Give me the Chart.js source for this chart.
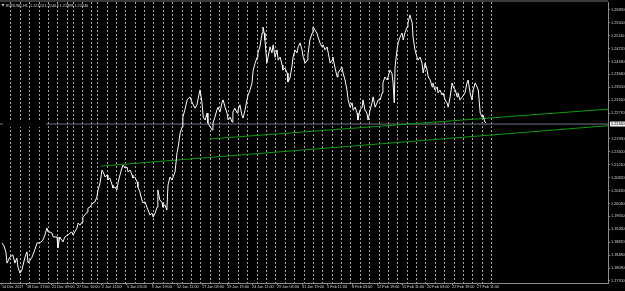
<!DOCTYPE html>
<html>
<head>
<meta charset="utf-8">
<script src="https://cdn.jsdelivr.net/npm/chart.js@4.4.1/dist/chart.umd.min.js"></script>
<style>
html, body { margin: 0; padding: 0; background: #000; overflow: hidden; }
canvas { display: block; }
</style>
</head>
<body>
<canvas id="chart" width="625" height="291" style="width:625px;height:291px"></canvas>
<script>
// EURUSD H1, bar index from the first bar (14 Dec 2017) and the close
const barIndex = [
    0, 5, 10, 13, 20, 28, 33, 38, 41, 46, 51, 54, 59, 64, 67, 72, 77, 84, 90, 97,
    105, 110, 115, 118, 123, 128, 131, 141, 143, 148, 156, 161, 169, 174, 179, 182, 192, 195, 200, 205,
    207, 212, 218, 220, 225, 233, 238, 243, 246, 251, 256, 259, 264, 269, 271, 276, 282, 284, 289, 294,
    297, 302, 307, 310, 315, 320, 323, 328, 333, 335, 340, 346, 348, 353, 358, 361, 366, 371, 374, 379,
    384, 387, 392, 397, 399, 404, 410, 412, 417, 422, 425, 430, 435, 438, 443, 448, 451, 456, 461, 463,
    468, 474, 481, 486, 494, 499, 504,
    507, 512, 515, 520, 525, 527, 538, 540, 545, 550, 553, 558, 563, 566, 571, 576, 579, 584, 589, 591,
    596, 602, 604, 609, 614, 617, 622, 627, 630, 635, 640, 643, 648, 653, 655, 660, 666, 668, 671, 673,
    678, 681, 686, 691, 694, 699, 704, 707, 712, 717, 719, 724, 730, 732, 737, 742, 745, 750, 755, 758,
    763, 768, 771, 776, 781, 783, 788, 794, 796, 801, 806, 809, 814, 819, 822, 827, 832, 835, 840, 845,
    847, 852, 858, 860, 865, 870, 873, 878, 883, 886, 891, 896, 899, 904, 909, 911, 916, 922, 924, 929,
    934, 937, 942, 947, 950, 955, 960, 963,
    968, 973, 975, 980, 986, 993, 998, 1001, 1004, 1006, 1011, 1014, 1019, 1024, 1027, 1032, 1037, 1039, 1044, 1050,
    1052, 1057, 1062, 1065, 1070, 1075, 1078, 1083, 1088, 1091, 1096, 1101, 1103, 1108, 1114, 1116, 1121, 1126, 1129, 1134,
    1139, 1142, 1147, 1152, 1155, 1160, 1165, 1167, 1172, 1178, 1185, 1190, 1193, 1198, 1203, 1206, 1211, 1216, 1219, 1224,
    1229, 1231, 1236, 1239
];
const closePrice = [
    1.1885, 1.1876, 1.1858, 1.1824, 1.1842, 1.1849, 1.1824, 1.1839, 1.1812, 1.1794, 1.1803, 1.1818, 1.1842, 1.1858, 1.1824, 1.1833, 1.1842, 1.1864, 1.1885, 1.1885,
    1.1894, 1.1909, 1.1930, 1.1918, 1.1918, 1.1915, 1.1903, 1.1903, 1.1870, 1.1903, 1.1888, 1.1903, 1.1909, 1.1915, 1.1918, 1.1909, 1.1930, 1.1945, 1.1939, 1.1948,
    1.1963, 1.1969, 1.1978, 1.1990, 1.1993, 1.2006, 1.2009, 1.2024, 1.2045, 1.2066, 1.2105, 1.2099, 1.2084, 1.2090, 1.2075, 1.2081, 1.2060, 1.2051, 1.2054, 1.2045,
    1.2066, 1.2090, 1.2111, 1.2120, 1.2111, 1.2114, 1.2099, 1.2105, 1.2090, 1.2081, 1.2084, 1.2069, 1.2054, 1.2039, 1.2015, 1.2006, 1.2009, 1.1993, 1.1984, 1.1969,
    1.1975, 1.1963, 1.1975, 1.1993, 1.2045, 1.2015, 1.2006, 1.1993, 1.2000, 1.1984, 1.2060, 1.2084, 1.2075, 1.2084, 1.2099, 1.2157, 1.2175, 1.2217, 1.2235, 1.2265,
    1.2286, 1.2317, 1.2326, 1.2311, 1.2292, 1.2302, 1.2332,
    1.2347, 1.2308, 1.2265, 1.2256, 1.2277, 1.2247, 1.2226, 1.2247, 1.2265, 1.2286, 1.2295, 1.2280, 1.2308, 1.2317, 1.2295, 1.2277, 1.2256, 1.2265, 1.2250, 1.2280,
    1.2292, 1.2277, 1.2286, 1.2302, 1.2271, 1.2262, 1.2286, 1.2317, 1.2332, 1.2347, 1.2368, 1.2407, 1.2428, 1.2446, 1.2459, 1.2477, 1.2519, 1.2537, 1.2519, 1.2498,
    1.2428, 1.2446, 1.2477, 1.2459, 1.2483, 1.2446, 1.2468, 1.2437, 1.2446, 1.2422, 1.2407, 1.2413, 1.2398, 1.2371, 1.2383, 1.2416, 1.2446, 1.2468, 1.2459, 1.2477,
    1.2489, 1.2468, 1.2446, 1.2428, 1.2437, 1.2453, 1.2498, 1.2519, 1.2537, 1.2528, 1.2519, 1.2507, 1.2489, 1.2477, 1.2483, 1.2468, 1.2477, 1.2459, 1.2428, 1.2437,
    1.2446, 1.2416, 1.2386, 1.2398, 1.2407, 1.2416, 1.2398, 1.2377, 1.2347, 1.2317, 1.2295, 1.2308, 1.2286, 1.2295, 1.2277, 1.2256, 1.2286, 1.2295, 1.2317, 1.2286,
    1.2277, 1.2256, 1.2286, 1.2308, 1.2326, 1.2295, 1.2308, 1.2317,
    1.2317, 1.2338, 1.2368, 1.2386, 1.2377, 1.2407, 1.2398, 1.2368, 1.2308, 1.2416, 1.2468, 1.2489, 1.2507, 1.2519, 1.2498, 1.2522, 1.2537, 1.2549, 1.2573, 1.2549,
    1.2507, 1.2468, 1.2446, 1.2437, 1.2446, 1.2428, 1.2398, 1.2428, 1.2407, 1.2386, 1.2377, 1.2356, 1.2368, 1.2347, 1.2356, 1.2338, 1.2347, 1.2332, 1.2338, 1.2317,
    1.2308, 1.2295, 1.2326, 1.2368, 1.2356, 1.2347, 1.2326, 1.2338, 1.2317, 1.2326, 1.2338, 1.2368, 1.2377, 1.2338, 1.2317, 1.2347, 1.2368, 1.2356, 1.2347, 1.2277,
    1.2265, 1.2271, 1.2250, 1.2247
];

// two trend lines, [bar, price] of the anchor and of the right edge
const lowerTrendBars = [253, 1551];
const lowerTrendPrices = [1.2117, 1.2239];
const upperTrendBars = [532, 1551];
const upperTrendPrices = [1.2199, 1.2289];

const bidPrice = 1.22440;
const symbolTitle = 'EURUSD,H1  1.22424 1.22463 1.22398 1.22440';

// axis labels
const priceTicks = [
    1.17700, 1.18090, 1.18480, 1.18870, 1.19260, 1.19650, 1.20040, 1.20430, 1.20820, 1.21210, 1.21600,
    1.21990, 1.22770, 1.23160, 1.23550, 1.23940, 1.24330, 1.24720, 1.25110, 1.25500, 1.25890
];
const timeTickBars = [0, 64, 128, 192, 256, 320, 384, 448, 512, 576, 640, 704, 768, 832, 896, 960, 1024, 1088, 1152, 1216];
const timeLabels = [
    '14 Dec 2017', '18 Dec 17:00', '21 Dec 09:00', '27 Dec 10:00', '2 Jan 11:00', '5 Jan 03:00', '9 Jan 19:00',
    '12 Jan 11:00', '17 Jan 03:00', '19 Jan 19:00', '24 Jan 11:00', '29 Jan 03:00', '31 Jan 19:00', '5 Feb 11:00',
    '8 Feb 03:00', '12 Feb 19:00', '15 Feb 11:00', '20 Feb 03:00', '22 Feb 19:00', '27 Feb 11:00'
];
// period separators (start of each trading day)
const daySeparators = [
    23, 47, 71, 95, 119, 143, 167, 182, 206, 230, 245, 269, 293, 317, 341, 365, 389, 413, 437, 461,
    485, 509, 533, 557, 581, 605, 629, 653, 677, 701, 725, 749, 773, 797, 821, 845, 869, 893, 917, 941,
    965, 989, 1013, 1037, 1061, 1085, 1109, 1133, 1157, 1181, 1205, 1229, 1253
];

const tinyFont = { family: 'Liberation Sans', size: 3.8 };
const labelColor = '#d4d4d4';
const axisColor = '#8c8c8c';

const mtOverlay = {
    id: 'mtOverlay',
    beforeDraw(chart) {
        const c = chart.ctx;
        c.save();
        c.fillStyle = '#000';
        c.fillRect(0, 0, chart.width, chart.height);
        c.fillStyle = '#3a3a3a';
        c.fillRect(0, 0, chart.chartArea.right, 2);
        c.restore();
    },
    afterDraw(chart) {
        const c = chart.ctx;
        const y = chart.scales.y.getPixelForValue(bidPrice);
        c.save();
        // object label patch on the left
        c.fillStyle = '#000';
        c.fillRect(4, y - 3, 42, 6);
        // current price box
        c.fillStyle = '#f2f2f2';
        c.fillRect(610, y - 2.5, 15, 5);
        c.font = '3.8px "Liberation Sans"';
        c.textBaseline = 'middle';
        c.fillStyle = '#000';
        c.fillText(bidPrice.toFixed(5), 611, y);
        // symbol line
        c.fillStyle = '#d8d8d8';
        c.fillText(symbolTitle, 6, 5.5);
        c.beginPath();
        c.moveTo(1.5, 4);
        c.lineTo(4.5, 4);
        c.lineTo(3, 6.5);
        c.closePath();
        c.fill();
        c.restore();
    }
};

const ctx = document.getElementById('chart').getContext('2d');
new Chart(ctx, {
    type: 'line',
    data: {
        datasets: [
            {
                data: barIndex.map((b, i) => ({ x: b, y: closePrice[i] })),
                borderColor: '#ffffff',
                borderWidth: 1,
                pointRadius: 0,
                tension: 0
            },
            {
                data: lowerTrendBars.map((b, i) => ({ x: b, y: lowerTrendPrices[i] })),
                borderColor: '#0c9a0c',
                borderWidth: 1,
                pointRadius: 0
            },
            {
                data: upperTrendBars.map((b, i) => ({ x: b, y: upperTrendPrices[i] })),
                borderColor: '#0c9a0c',
                borderWidth: 1,
                pointRadius: 0
            },
            {
                data: [
                    { x: -5, y: bidPrice }, { x: 3, y: bidPrice }, { x: 40, y: null },
                    { x: 113, y: bidPrice }, { x: 1551, y: bidPrice }
                ],
                borderColor: '#6b7886',
                borderWidth: 1,
                pointRadius: 0,
                spanGaps: false
            }
        ]
    },
    options: {
        responsive: false,
        animation: false,
        events: [],
        layout: { padding: { top: 2, left: 0, right: 0, bottom: 0 } },
        plugins: {
            legend: { display: false },
            tooltip: { enabled: false }
        },
        scales: {
            x: {
                type: 'linear',
                position: 'bottom',
                min: -5,
                max: 1551,
                afterBuildTicks: s => { s.ticks = timeTickBars.map(v => ({ value: v })); },
                afterFit: s => { s.height = 8; s.paddingLeft = 0; s.paddingRight = 0; },
                ticks: {
                    callback: (v, i) => timeLabels[i],
                    align: 'start',
                    autoSkip: false,
                    maxRotation: 0,
                    padding: 0,
                    font: tinyFont,
                    color: labelColor
                },
                grid: { drawOnChartArea: false, tickLength: 2, color: axisColor },
                border: { color: axisColor }
            },
            sep: {
                type: 'linear',
                position: 'bottom',
                min: -5,
                max: 1551,
                afterBuildTicks: s => { s.ticks = daySeparators.map(v => ({ value: v })); },
                afterFit: s => { s.height = 0; s.paddingLeft = 0; s.paddingRight = 0; },
                ticks: { display: false },
                grid: { color: '#a8a8a8', lineWidth: 1, drawTicks: false },
                border: { display: false, dash: [2, 2] }
            },
            y: {
                type: 'linear',
                position: 'right',
                min: 1.176396,
                max: 1.261258,
                afterBuildTicks: s => { s.ticks = priceTicks.map(v => ({ value: v })); },
                afterFit: s => { s.width = 17; s.paddingTop = 0; s.paddingBottom = 0; },
                ticks: {
                    callback: v => v.toFixed(5),
                    autoSkip: false,
                    padding: 1,
                    font: tinyFont,
                    color: labelColor
                },
                grid: { drawOnChartArea: false, tickLength: 2, color: axisColor },
                border: { color: axisColor }
            }
        }
    },
    plugins: [mtOverlay]
});
</script>
</body>
</html>
